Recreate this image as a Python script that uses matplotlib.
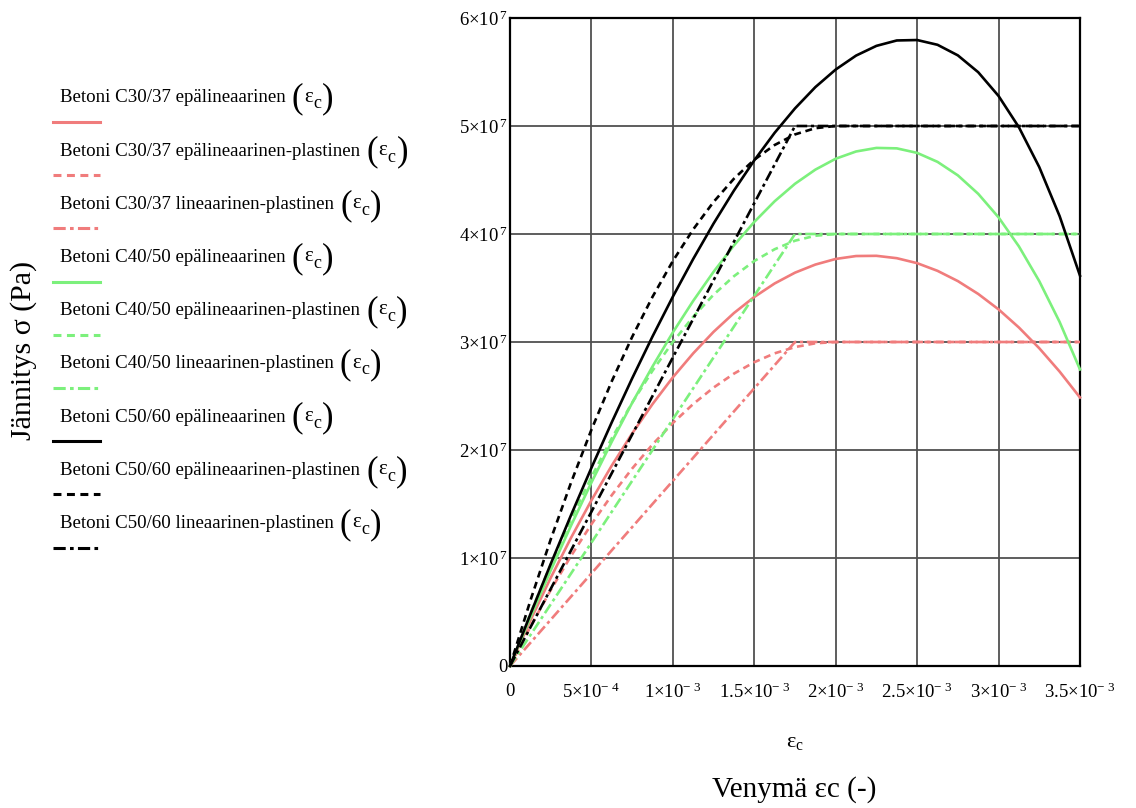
import matplotlib
matplotlib.use("Agg")
import matplotlib.pyplot as plt
import numpy as np

plt.rcParams["font.family"] = ["Liberation Serif", "DejaVu Serif"]
plt.rcParams["mathtext.fontset"] = "custom"
plt.rcParams["mathtext.rm"] = "Liberation Serif"
plt.rcParams["mathtext.it"] = "Liberation Serif:italic"
plt.rcParams["mathtext.bf"] = "Liberation Serif:bold"

# Strain grid (per mille) for the curved laws
strain_pm = [0.0, 0.125, 0.25, 0.375, 0.5, 0.625, 0.75, 0.875, 1.0, 1.125,
             1.25, 1.375, 1.5, 1.625, 1.75, 1.875, 2.0, 2.125, 2.25, 2.375,
             2.5, 2.625, 2.75, 2.875, 3.0, 3.125, 3.25, 3.375, 3.5]

# Non-linear stress-strain curves (MPa)
c30_nonlin = [0.0, 4.21, 8.17, 11.88, 15.34, 18.56, 21.53, 24.25, 26.73, 28.95,
              30.94, 32.68, 34.17, 35.42, 36.42, 37.17, 37.69, 37.96, 37.98, 37.76,
              37.30, 36.59, 35.64, 34.45, 33.02, 31.34, 29.42, 27.26, 24.86]
c40_nonlin = [0.0, 4.51, 8.85, 13.01, 16.99, 20.77, 24.36, 27.73, 30.89, 33.81,
              36.50, 38.94, 41.12, 43.03, 44.65, 45.96, 46.97, 47.64, 47.97, 47.93,
              47.51, 46.68, 45.43, 43.72, 41.54, 38.85, 35.63, 31.85, 27.46]
c50_nonlin = [0.0, 4.79, 9.45, 13.98, 18.35, 22.57, 26.63, 30.51, 34.20, 37.69,
              40.97, 44.02, 46.82, 49.37, 51.63, 53.60, 55.23, 56.52, 57.42, 57.92,
              57.96, 57.52, 56.54, 54.98, 52.78, 49.88, 46.19, 41.65, 36.14]

# Parabola-rectangle curves (MPa)
pr_strain_pm = [0.0, 0.125, 0.25, 0.375, 0.5, 0.625, 0.75, 0.875, 1.0, 1.125,
                1.25, 1.375, 1.5, 1.625, 1.75, 1.875, 2.0, 3.5]
c30_parab = [0.0, 3.63, 7.03, 10.20, 13.13, 15.82, 18.28, 20.51, 22.50, 24.26,
             25.78, 27.07, 28.13, 28.95, 29.53, 29.88, 30.0, 30.0]
c40_parab = [0.0, 4.84, 9.38, 13.59, 17.50, 21.09, 24.38, 27.34, 30.00, 32.34,
             34.38, 36.09, 37.50, 38.59, 39.38, 39.84, 40.0, 40.0]
c50_parab = [0.0, 6.05, 11.72, 16.99, 21.88, 26.37, 30.47, 34.18, 37.50, 40.43,
             42.97, 45.12, 46.88, 48.24, 49.22, 49.80, 50.0, 50.0]

# Bilinear (linear-plastic) curves (MPa)
bl_strain_pm = [0.0, 1.75, 3.5]
c30_bilin = [0.0, 30.0, 30.0]
c40_bilin = [0.0, 40.0, 40.0]
c50_bilin = [0.0, 50.0, 50.0]

labels = [
    "Betoni C30/37 epälineaarinen",
    "Betoni C30/37 epälineaarinen-plastinen",
    "Betoni C30/37 lineaarinen-plastinen",
    "Betoni C40/50 epälineaarinen",
    "Betoni C40/50 epälineaarinen-plastinen",
    "Betoni C40/50 lineaarinen-plastinen",
    "Betoni C50/60 epälineaarinen",
    "Betoni C50/60 epälineaarinen-plastinen",
    "Betoni C50/60 lineaarinen-plastinen",
]

x_ticks = [0, 5e-4, 1e-3, 1.5e-3, 2e-3, 2.5e-3, 3e-3, 3.5e-3]
x_ticklabels = ["0", "5×10$^{-\\ 4}$", "1×10$^{-\\ 3}$", "1.5×10$^{-\\ 3}$",
                "2×10$^{-\\ 3}$", "2.5×10$^{-\\ 3}$", "3×10$^{-\\ 3}$", "3.5×10$^{-\\ 3}$"]
y_ticks = [0, 1e7, 2e7, 3e7, 4e7, 5e7, 6e7]
y_ticklabels = ["0", "1×10$^{\\,7}$", "2×10$^{\\,7}$", "3×10$^{\\,7}$", "4×10$^{\\,7}$",
                "5×10$^{\\,7}$", "6×10$^{\\,7}$"]

RED = "#F07C7C"
GREEN = "#7CF07C"
BLACK = "#000000"
LW = 1.9
DASH = (0, (2.6, 1.8))
DASHDOT = (0, (4.0, 1.4, 1.2, 1.4))

series = [
    (strain_pm, c30_nonlin, RED, "-"),
    (pr_strain_pm, c30_parab, RED, DASH),
    (bl_strain_pm, c30_bilin, RED, DASHDOT),
    (strain_pm, c40_nonlin, GREEN, "-"),
    (pr_strain_pm, c40_parab, GREEN, DASH),
    (bl_strain_pm, c40_bilin, GREEN, DASHDOT),
    (strain_pm, c50_nonlin, BLACK, "-"),
    (pr_strain_pm, c50_parab, BLACK, DASH),
    (bl_strain_pm, c50_bilin, BLACK, DASHDOT),
]

fig = plt.figure(figsize=(11.36, 8.08), dpi=100)
W, H = 1136, 808
ax = fig.add_axes([510 / W, 1 - 666 / H, 570 / W, 648 / H])

for xs, ys, col, ls in series:
    ax.plot(np.array(xs) * 1e-3, np.array(ys) * 1e6, color=col, ls=ls, lw=LW,
            zorder=3, clip_on=False, solid_joinstyle="round")

ax.set_xlim(0, 3.5e-3)
ax.set_ylim(0, 6e7)
ax.set_xticks(x_ticks)
ax.set_xticklabels(x_ticklabels, fontsize=13.5)
ax.set_yticks(y_ticks)
ax.set_yticklabels(y_ticklabels, fontsize=13.5)
ax.tick_params(length=0)
ax.tick_params(axis="y", pad=2)
ax.tick_params(axis="x", pad=12)
ax.grid(True, color="#505050", lw=1.3)
ax.set_axisbelow(True)
for sp in ax.spines.values():
    sp.set_linewidth(1.6)
    sp.set_color("black")

# Axis captions
fig.text(795 / W, 1 - 742 / H, r"$\mathrm{\varepsilon_c}$", fontsize=16,
         ha="center", va="center")
fig.text(794 / W, 1 - 790 / H, "Venymä εc (-)", fontsize=21,
         ha="center", va="center")
fig.text(24 / W, 1 - 350 / H, "Jännitys σ (Pa)", fontsize=21.5,
         ha="center", va="center", rotation=90)

# Legend: caption above, line sample below
lax = fig.add_axes([0, 0, 1, 1])
lax.set_xlim(0, W)
lax.set_ylim(H, 0)
lax.axis("off")
renderer = fig.canvas.get_renderer()
text_y0, line_y0, step = 98, 122, 53.2
for i, (lab, (xs, ys, col, ls)) in enumerate(zip(labels, series)):
    ty = text_y0 + i * step
    ly = line_y0 + i * step
    t = lax.text(60, ty, lab, fontsize=13.6, ha="left", va="center")
    bb = t.get_window_extent(renderer)
    x = bb.x1 + 6
    # tall parentheses around the argument symbol
    lp = lax.text(x, ty + 1, "(", fontsize=25, ha="left", va="center")
    x = lp.get_window_extent(renderer).x1 + 1
    e = lax.text(x, ty - 1, "ε", fontsize=15, ha="left", va="center")
    x = e.get_window_extent(renderer).x1
    c = lax.text(x, ty + 6, "c", fontsize=13, ha="left", va="center")
    x = c.get_window_extent(renderer).x1 + 1
    lax.text(x, ty + 1, ")", fontsize=25, ha="left", va="center")
    lax.plot([53, 100], [ly, ly], color=col, ls=ls, lw=2.2)

fig.savefig("out.png", dpi=100)
